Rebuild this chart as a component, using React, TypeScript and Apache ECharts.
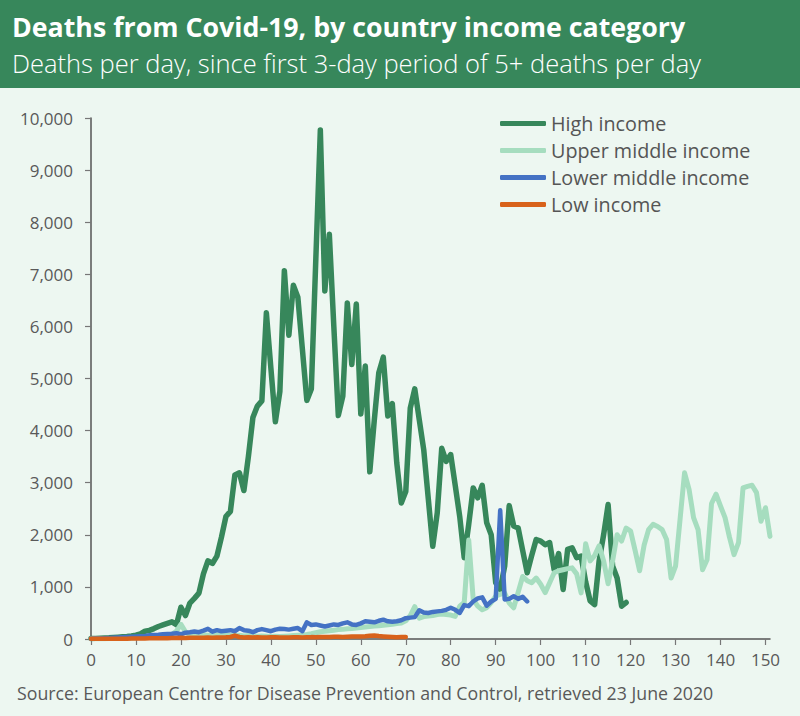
import React, { useEffect, useRef } from "react";
import * as echarts from "echarts";

const TITLE = "Deaths from Covid-19, by country income category";
const SUBTITLE = "Deaths per day, since first 3-day period of 5+ deaths per day";
const SOURCE = "Source: European Centre for Disease Prevention and Control, retrieved 23 June 2020";

const seriesNames = ["High income", "Upper middle income", "Lower middle income", "Low income"];
const seriesColors = ["#37875B", "#A6DDBF", "#4472C4", "#D8621B"];

const xTickValues = [0, 10, 20, 30, 40, 50, 60, 70, 80, 90, 100, 110, 120, 130, 140, 150];

// Deaths per day, index = days since first 3-day period of 5+ deaths
const highIncome = [
  10, 12, 15, 18, 22, 28, 35, 42, 50, 60,
  75, 100, 150, 165, 200, 240, 270, 300, 330, 275,
  610, 450, 690, 780, 880, 1250, 1500, 1450, 1590, 1950,
  2350, 2450, 3150, 3190, 2850, 3500, 4250, 4470, 4570, 6260,
  5200, 4170, 4750, 7070, 5830, 6790, 6560, 5570, 4580, 4800,
  7300, 9770, 6680, 7770, 6000, 4290, 4660, 6450, 5270, 6430,
  4320, 5240, 3210, 4200, 5110, 5410, 4280, 4520, 3380, 2610,
  2830, 4430, 4800, 4210, 3630, 2700, 1780, 2420, 3660, 3410,
  3540, 2950, 2350, 1560, 2200, 2900, 2710, 2950, 2230, 2000,
  1080, 950, 1400, 2560, 2170, 2130, 1700, 1270, 1600, 1910,
  1880, 1810, 1850, 1330, 1640, 950, 1720, 1750, 1560, 1590,
  1100, 730, 660, 1500, 2000, 2580, 1400, 1170, 630, 700,
];

const upperMiddleIncome = [
  3, 4, 5, 6, 8, 10, 12, 14, 16, 20,
  25, 30, 35, 40, 45, 55, 60, 70, 90, 150,
  280, 140, 80, 70, 75, 80, 70, 75, 80, 70,
  75, 70, 65, 70, 60, 65, 60, 55, 60, 55,
  50, 55, 50, 55, 60, 65, 70, 75, 85, 100,
  120, 140, 150, 160, 170, 180, 185, 195, 200, 210,
  220, 230, 240, 250, 255, 265, 275, 285, 295, 305,
  350, 450, 620, 400, 430, 440, 450, 470, 480, 470,
  460, 435, 630, 700, 1900, 760, 630, 560, 600, 700,
  820, 860, 880, 690, 600, 900, 1200, 1120, 1080, 1170,
  1050, 890, 1080, 1270, 1310, 1330, 1350, 1365, 1250, 885,
  1830, 1500, 1600, 1790, 1500, 1060, 1500, 2000, 1880, 2130,
  2070, 1700, 1310, 1800, 2100, 2200, 2160, 2100, 1910, 1170,
  1400, 2300, 3190, 2870, 2330, 2100, 1330, 1520, 2600, 2780,
  2550, 2330, 1950, 1620, 1850, 2900, 2930, 2950, 2810, 2260,
  2520, 1970,
];

const lowerMiddleIncome = [
  5, 8, 10, 15, 20, 25, 30, 35, 40, 45,
  50, 55, 60, 70, 75, 80, 90, 95, 100, 110,
  90, 120, 130, 145, 130, 160, 195, 140, 170, 150,
  160, 170, 150, 210, 170, 160, 130, 170, 190, 170,
  150, 180, 195, 190, 180, 195, 210, 150, 320, 270,
  280, 260, 240, 260, 280, 270, 300, 320, 280, 270,
  300, 340, 330, 320, 350, 370, 340, 330, 340, 360,
  400, 410, 420, 550, 510, 500, 520, 530, 540, 560,
  600, 560, 500, 650, 630, 720, 780, 800, 640, 720,
  770, 2470, 760, 770, 820, 770, 810, 720,
];

const lowIncome = [
  3, 3, 4, 4, 5, 5, 6, 6, 7, 8,
  9, 10, 11, 12, 13, 14, 15, 16, 18, 20,
  22, 20, 24, 22, 26, 25, 28, 24, 30, 28,
  32, 38, 65, 38, 30, 32, 30, 34, 28, 30,
  32, 35, 30, 28, 30, 33, 35, 30, 34, 36,
  35, 38, 40, 38, 42, 45, 40, 44, 46, 48,
  50, 52, 62, 66, 56, 50, 45, 40, 35, 38,
  40,
];

const seriesValues = [highIncome, upperMiddleIncome, lowerMiddleIncome, lowIncome];
const seriesWidths = [5.5, 5, 4.5, 4.5];

const FONT = '"Open Sans", "Noto Sans", sans-serif';

function measure(text: string, font: string): number {
  const ctx = document.createElement("canvas").getContext("2d");
  if (!ctx) return 0;
  ctx.font = font;
  return ctx.measureText(text).width;
}

function fitSize(text: string, base: number, weight: string, target: number): number {
  const w = measure(text, `${weight} ${base}px ${FONT}`);
  if (!w) return base;
  return Math.round(((base * target) / w) * 4) / 4;
}

export default function App() {
  const ref = useRef<HTMLDivElement>(null);

  useEffect(() => {
    if (!ref.current) return;
    const chart = echarts.init(ref.current, undefined, { renderer: "svg" });

    const titleSize = fitSize(TITLE, 24, "bold", 676);
    const subSize = fitSize(SUBTITLE, 22, "300", 688);
    const sourceSize = fitSize(SOURCE, 16, "normal", 696);
    const legendSize = fitSize("Upper middle income", 19, "normal", 200);

    const series = seriesNames.map((name, k) => ({
      name,
      type: "line",
      data: seriesValues[k].map((v, i) => [i, v]),
      showSymbol: false,
      symbol: "none",
      lineStyle: { width: seriesWidths[k], color: seriesColors[k], join: "round", cap: "round" },
      itemStyle: { color: seriesColors[k] },
      z: 2 + k,
    }));

    chart.setOption({
      animation: false,
      backgroundColor: "#EDF7F1",
      textStyle: { fontFamily: FONT },
      graphic: [
        {
          type: "rect",
          left: 0,
          top: 0,
          shape: { x: 0, y: 0, width: 800, height: 88 },
          style: { fill: "#37875B" },
          z: 0,
        },
        {
          type: "text",
          x: 12,
          y: 26,
          style: {
            text: TITLE,
            fill: "#FFFFFF",
            fontSize: titleSize,
            fontWeight: "bold",
            fontFamily: FONT,
            verticalAlign: "middle",
          },
        },
        {
          type: "text",
          x: 12,
          y: 63,
          style: {
            text: SUBTITLE,
            fill: "#FFFFFF",
            fontSize: subSize,
            fontWeight: 300,
            fontFamily: FONT,
            verticalAlign: "middle",
          },
        },
        {
          type: "text",
          x: 17,
          y: 693,
          style: {
            text: SOURCE,
            fill: "#595959",
            fontSize: sourceSize,
            fontFamily: FONT,
            verticalAlign: "middle",
          },
        },
      ],
      legend: {
        orient: "vertical",
        left: 500,
        top: 110,
        icon: "roundRect",
        itemWidth: 46,
        itemHeight: 5,
        itemGap: 0,
        padding: 0,
        data: seriesNames,
        textStyle: { fontSize: legendSize, color: "#555555", lineHeight: 27, fontFamily: FONT },
      },
      grid: { left: 91, right: 30, top: 118, bottom: 77, containLabel: false },
      xAxis: {
        type: "value",
        min: 0,
        max: 151,
        interval: 10,
        axisLine: { show: true, lineStyle: { color: "#555555", width: 1.5 } },
        axisTick: { show: true, customValues: xTickValues, length: 6, lineStyle: { color: "#777777", width: 1.2 } },
        axisLabel: { customValues: xTickValues, fontSize: 17, color: "#595959", margin: 12, fontFamily: FONT },
        splitLine: { show: false },
      },
      yAxis: {
        type: "value",
        min: 0,
        max: 10000,
        interval: 1000,
        axisLine: { show: true, lineStyle: { color: "#555555", width: 1.5 } },
        axisTick: { show: true, length: 6, lineStyle: { color: "#777777", width: 1.2 } },
        axisLabel: {
          fontSize: 17,
          color: "#595959",
          margin: 18,
          fontFamily: FONT,
          formatter: (v: number) => v.toLocaleString("en-US"),
        },
        splitLine: { show: false },
      },
      series,
    });

    return () => chart.dispose();
  }, []);

  return (
    <div
      ref={ref}
      style={{ position: "fixed", left: 0, top: 0, width: 800, height: 716 }}
    />
  );
}
